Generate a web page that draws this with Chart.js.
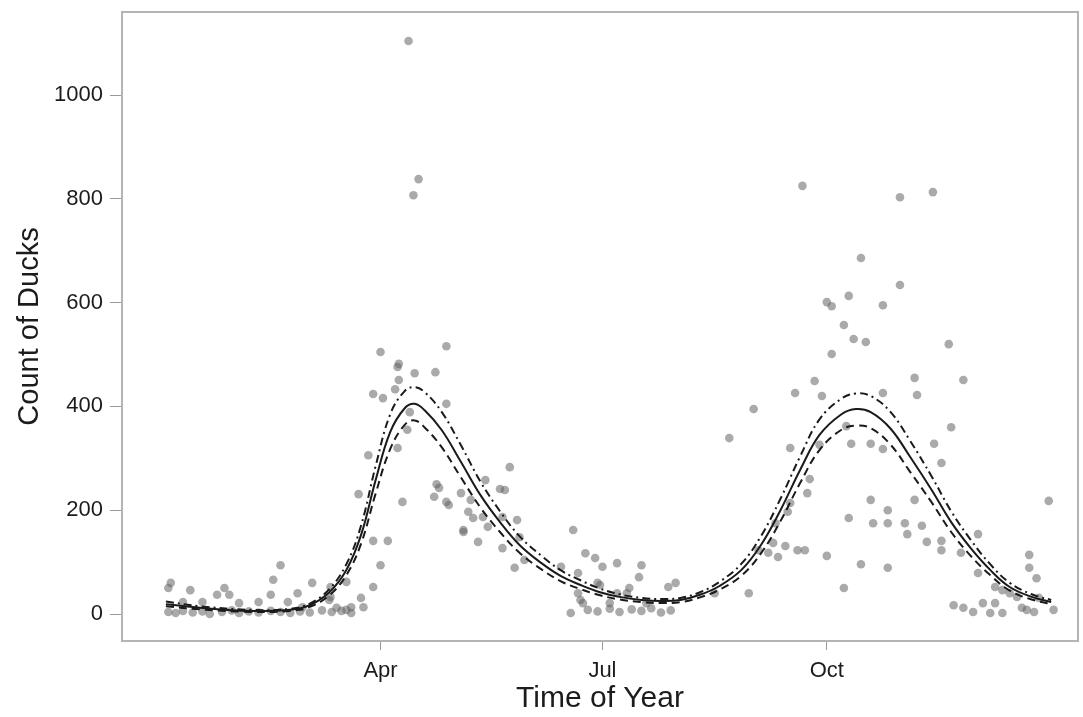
<!DOCTYPE html>
<html>
<head>
<meta charset="utf-8">
<script src="https://cdn.jsdelivr.net/npm/chart.js@4"></script>
<style>
  html, body { margin: 0; padding: 0; background: #fff; }
  #wrap { width: 1083px; height: 717px; }
</style>
</head>
<body>
<div id="wrap"><canvas id="ducks" width="1083" height="717"></canvas></div>
<script>
// day of year for each count
const duckDay = [
  4,3,12,9,17,23,26,28,32,40,45,46,49,56,52,62,69,76,58,
  3,6,9,13,17,20,25,29,32,36,40,45,49,53,57,61,66,70,74,78,
  69.5,69.5,72,76,78,82,83,87,90,87,93,81,85,87,91,90,96,97,97.5,97.5,97,99,101,102,104,
  101.5,105.6,103.5,112.5,117,117,113,114,112,117,118,123,124,127,126,128,124,130,132,133,134,
  139,141,143,140,146,140,147,145,149,
  169,164,174,178,181,187,197,196,171,179,180,171,172,187,192,191,208,211,168,173,184,199,
  175,179,184,188,193,197,201,205,209,
  227,241,233,243,245,249,253,251,256,252,257,258,258,260,261,264,265,266,263,268,270,271,273,
  273,275,275,280,280,281,282,282,283,284,287,287,289,291,291,292,296,296,296,298,298,298,
  303,303,305,306,309,309,310,312,314,316.5,317,320,320,320,323,324,329,325,328,329,333,335,335,
  337,340,342,342,345,345,348,351,353,355,356,356,359,360,358,364,366
];
const duckCount = [
  60,50,46,23,23,37,50,37,21,23,37,66,94,40,23,60,27,62,13,
  4,2,6,3,5,0,4,7,2,5,3,6,4,2,5,3,7,4,6,2,
  33,52,12,8,13,31,13,52,94,141,141,231,306,424,416,505,433,476,482,451,320,216,355,389,464,
  1104,838,807,466,516,405,250,243,226,216,210,233,162,220,197,185,158,139,187,258,168,
  241,239,283,187,181,127,148,89,104,
  162,91,117,108,91,98,94,71,79,60,56,40,27,40,50,40,52,60,2,21,21,21,
  8,5,10,4,9,6,11,3,7,
  40,40,339,395,123,118,110,137,131,175,197,214,320,426,123,123,233,260,825,449,326,420,112,
  601,593,501,557,50,362,613,185,328,530,686,96,524,328,220,175,595,318,426,200,89,175,
  803,634,175,154,455,220,422,170,139,813,328,291,141,123,520,360,451,17,118,12,4,154,79,
  21,2,21,52,46,2,40,33,12,8,114,89,69,31,4,218,8
];

// smooth fit and its confidence band
const fitDay = [2,16,37,53,61,69,76,82,88,94,100,104,108,115,123,131,139,147,156,164,172,180,188,197,205,213,221,229,238,246,254,262,270,279,285,291,299,307,316,324,332,340,348,357,365];
const fitMid = [19,12,6,8,17,42,85,152,258,351,397,405,393,355,293,229,177,133,98,73,56,42,33,27,25,27,37,54,85,133,200,277,345,385,395,389,358,304,239,177,127,85,52,33,23];
const fitUpper = [24,15,8,10,20,48,96,170,285,385,430,437,428,390,325,255,198,150,112,84,65,49,38,31,29,31,42,62,97,150,222,303,375,415,425,420,390,335,265,198,143,96,60,38,27];
const fitLower = [15,9,4,6,14,36,75,135,232,318,365,373,360,322,263,205,158,118,86,63,48,36,28,23,21,23,32,47,74,117,179,252,316,355,363,358,327,275,215,158,112,75,45,28,19];

const monthTicks = [90, 181, 273];
const monthLabels = ["Apr", "Jul", "Oct"];
const countTicks = [0, 200, 400, 600, 800, 1000];

const pts = (xs, ys) => xs.map((x, i) => ({ x: x, y: ys[i] }));

const frame = {
  id: "frame",
  afterDatasetsDraw(chart) {
    const a = chart.chartArea, c = chart.ctx;
    c.save();
    c.strokeStyle = "#b4b4b4";
    c.lineWidth = 2;
    c.strokeRect(a.left, a.top, a.right - a.left, a.bottom - a.top);
    c.restore();
  }
};

const font = "Arial, 'Liberation Sans', Helvetica, sans-serif";

new Chart(document.getElementById("ducks"), {
  type: "scatter",
  data: {
    datasets: [
      {
        label: "fit", data: pts(fitDay, fitMid), showLine: true, order: 1,
        borderColor: "#1a1a1a", borderWidth: 2, pointRadius: 0, tension: 0.4, fill: false
      },
      {
        label: "upper", data: pts(fitDay, fitUpper), showLine: true, order: 2,
        borderColor: "#1a1a1a", borderWidth: 2, borderDash: [8, 4, 2, 4], pointRadius: 0, tension: 0.4, fill: false
      },
      {
        label: "lower", data: pts(fitDay, fitLower), showLine: true, order: 3,
        borderColor: "#1a1a1a", borderWidth: 2, borderDash: [8, 5], pointRadius: 0, tension: 0.4, fill: false
      },
      {
        label: "counts", data: pts(duckDay, duckCount), order: 10,
        pointRadius: 4.3, pointBorderWidth: 0,
        pointBackgroundColor: "rgba(100,100,100,0.55)", borderColor: "rgba(0,0,0,0)"
      }
    ]
  },
  options: {
    responsive: false,
    animation: false,
    layout: { padding: { top: 12, right: 5, left: 0, bottom: 0 } },
    plugins: { legend: { display: false }, tooltip: { enabled: false } },
    scales: {
      x: {
        type: "linear", min: -16, max: 376,
        afterBuildTicks: s => { s.ticks = monthTicks.map(v => ({ value: v })); },
        afterFit: s => { s.height = 76; s.paddingLeft = 0; s.paddingRight = 0; },
        grid: { drawOnChartArea: false, drawTicks: true, tickLength: 9, color: "#999" },
        border: { display: false },
        ticks: {
          color: "#1c1c1c", padding: 8, font: { family: font, size: 22 },
          callback: v => monthLabels[monthTicks.indexOf(v)]
        },
        title: { display: true, text: "Time of Year", color: "#1c1c1c", font: { family: font, size: 30 }, padding: { top: 0, bottom: 0 } }
      },
      y: {
        min: -52, max: 1160,
        afterBuildTicks: s => { s.ticks = countTicks.map(v => ({ value: v })); },
        afterFit: s => { s.width = 122; s.paddingTop = 0; s.paddingBottom = 0; },
        grid: { drawOnChartArea: false, drawTicks: true, tickLength: 12, color: "#999" },
        border: { display: false },
        ticks: { color: "#1c1c1c", padding: 7, font: { family: font, size: 22 }, callback: v => String(v) },
        title: { display: true, text: "Count of Ducks", color: "#1c1c1c", font: { family: font, size: 29 }, padding: { top: 13, bottom: 0 } }
      }
    }
  },
  plugins: [frame]
});
</script>
</body>
</html>
